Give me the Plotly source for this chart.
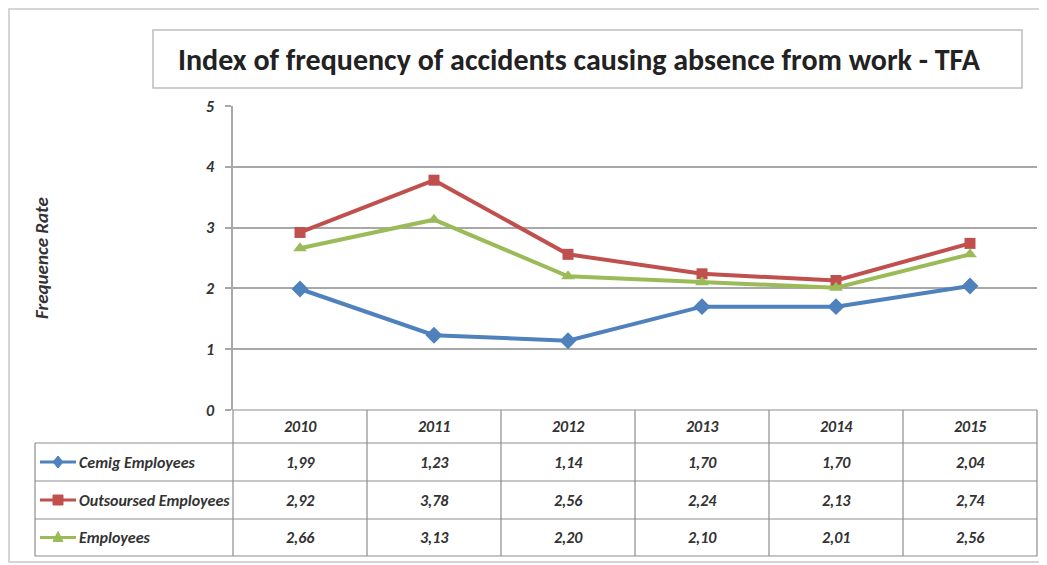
import plotly.graph_objects as go

years = ["2010", "2011", "2012", "2013", "2014", "2015"]
series_names = ["Cemig Employees", "Outsoursed Employees", "Employees"]
cemig = [1.99, 1.23, 1.14, 1.70, 1.70, 2.04]
outsourced = [2.92, 3.78, 2.56, 2.24, 2.13, 2.74]
employees = [2.66, 3.13, 2.20, 2.10, 2.01, 2.56]
y_ticks = [0, 1, 2, 3, 4, 5]
title_text = "Index of frequency of accidents causing absence from work - TFA"
y_title = "Frequence Rate"

series_values = [cemig, outsourced, employees]
colors = ["#4F81BD", "#C0504D", "#9BBB59"]
symbols = ["diamond", "square", "triangle-up"]
msizes = [13, 11, 12]

OFF = 8  # browser body margin
W, H = 1047 - OFF, 565 - OFF
SL, SR, ST, SB = 233, 1037, 106, 410
L, R, T, B = SL - OFF, SR - OFF, ST - OFF, SB - OFF
PW, PH = R - L, B - T

def xp(sx):
    return (sx - SL) / PW

def yp(sy):
    return (SB - sy) / PH

FONT = "Calibri, Carlito, Lato, sans-serif"
GRID = "#A8A8A8"
TBL = "#8E8E8E"
TXT = "#333333"

fig = go.Figure()
for name, vals, c, s, ms in zip(series_names, series_values, colors, symbols, msizes):
    fig.add_trace(go.Scatter(
        x=years, y=vals, name=name, mode="lines+markers",
        line=dict(color=c, width=4),
        marker=dict(symbol=s, size=ms, color=c),
        showlegend=False, cliponaxis=False,
    ))

shapes = []
annotations = []

shapes.append(dict(type="rect", xref="paper", yref="paper",
                   x0=xp(9), x1=xp(1042), y0=yp(9), y1=yp(562),
                   line=dict(color="#C8C8C8", width=1.5), layer="below"))
shapes.append(dict(type="rect", xref="paper", yref="paper",
                   x0=xp(153), x1=xp(1022), y0=yp(30), y1=yp(88),
                   line=dict(color="#BDBDBD", width=1.5), layer="below"))
annotations.append(dict(text=title_text, xref="paper", yref="paper",
                        x=xp(579), y=yp(60), xanchor="center", yanchor="middle",
                        showarrow=False,
                        font=dict(family=FONT, size=30, color="#222222", weight="bold")))
annotations.append(dict(text=y_title, xref="paper", yref="paper",
                        x=xp(41), y=yp(258), xanchor="center", yanchor="middle",
                        textangle=-90, showarrow=False,
                        font=dict(family=FONT, size=19, color=TXT, weight="bold", style="italic")))

col_edges = [SL + i * PW / len(years) for i in range(len(years) + 1)]
row_lines = [410, 443, 481, 519, 556]
tbl_left = 35

shapes.append(dict(type="line", xref="paper", yref="paper",
                   x0=xp(SL), x1=xp(SR), y0=yp(row_lines[0]), y1=yp(row_lines[0]),
                   line=dict(color=TBL, width=1.2)))
for ry in row_lines[1:]:
    shapes.append(dict(type="line", xref="paper", yref="paper",
                       x0=xp(tbl_left), x1=xp(SR), y0=yp(ry), y1=yp(ry),
                       line=dict(color=TBL, width=1.2)))
for cx in col_edges:
    shapes.append(dict(type="line", xref="paper", yref="paper",
                       x0=xp(cx), x1=xp(cx), y0=yp(row_lines[0]), y1=yp(row_lines[-1]),
                       line=dict(color=TBL, width=1.2)))
shapes.append(dict(type="line", xref="paper", yref="paper",
                   x0=xp(tbl_left), x1=xp(tbl_left), y0=yp(row_lines[1]), y1=yp(row_lines[-1]),
                   line=dict(color=TBL, width=1.2)))

cell_font = dict(family=FONT, size=16, color=TXT, weight="bold", style="italic")
for i, yr in enumerate(years):
    annotations.append(dict(text=yr, xref="x", yref="paper", x=i,
                            y=yp((row_lines[0] + row_lines[1]) / 2),
                            xanchor="center", yanchor="middle", showarrow=False,
                            font=cell_font))

for k, (name, vals, c, s) in enumerate(zip(series_names, series_values, colors, symbols)):
    cy = (row_lines[k + 1] + row_lines[k + 2]) / 2
    shapes.append(dict(type="line", xref="paper", yref="paper",
                       x0=xp(40), x1=xp(76), y0=yp(cy), y1=yp(cy),
                       line=dict(color=c, width=3)))
    mx, r = 58, 5
    if s == "diamond":
        path = "M {} {} L {} {} L {} {} L {} {} Z".format(
            xp(mx), yp(cy - r - 1), xp(mx + r), yp(cy), xp(mx), yp(cy + r + 1), xp(mx - r), yp(cy))
    elif s == "square":
        path = "M {} {} L {} {} L {} {} L {} {} Z".format(
            xp(mx - r), yp(cy - r), xp(mx + r), yp(cy - r), xp(mx + r), yp(cy + r), xp(mx - r), yp(cy + r))
    else:
        path = "M {} {} L {} {} L {} {} Z".format(
            xp(mx), yp(cy - r - 1), xp(mx + r), yp(cy + r - 1), xp(mx - r), yp(cy + r - 1))
    shapes.append(dict(type="path", xref="paper", yref="paper", path=path,
                       fillcolor=c, line=dict(color=c, width=1)))
    annotations.append(dict(text=name, xref="paper", yref="paper",
                            x=xp(77), y=yp(cy), xanchor="left", yanchor="middle",
                            showarrow=False, font=cell_font))
    for i, v in enumerate(vals):
        annotations.append(dict(text=f"{v:.2f}".replace(".", ","), xref="x", yref="paper",
                                x=i, y=yp(cy), xanchor="center", yanchor="middle",
                                showarrow=False, font=cell_font))

fig.update_layout(
    width=W, height=H,
    margin=dict(l=L, r=W - R, t=T, b=H - B, pad=0),
    paper_bgcolor="white", plot_bgcolor="white",
    shapes=shapes, annotations=annotations,
    xaxis=dict(type="category", range=[-0.5, len(years) - 0.5], showticklabels=False,
               showgrid=False, zeroline=False, showline=False, ticks=""),
    yaxis=dict(range=[0, 5], tickvals=y_ticks, showgrid=True, gridcolor=GRID, gridwidth=1.5,
               zeroline=False, showline=True, linecolor=GRID, linewidth=1.5,
               ticks="outside", ticklen=6, tickcolor=GRID, tickwidth=1.5,
               ticklabelstandoff=8,
               tickfont=dict(family=FONT, size=16, color=TXT, weight="bold", style="italic")),
)

fig.write_html("out.html")
